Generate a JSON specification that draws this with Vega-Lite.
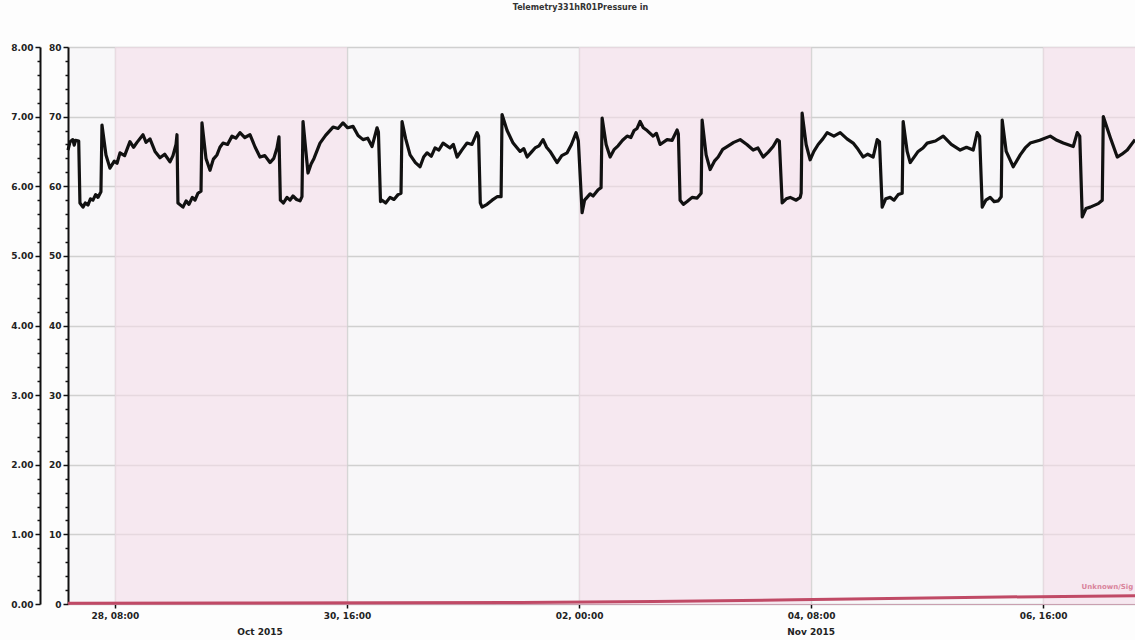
{
  "$schema": "https://vega.github.io/schema/vega-lite/v6.json",
  "autosize": "none",
  "width": 1067,
  "height": 557,
  "padding": {"left": 68, "top": 47, "right": 0, "bottom": 36},
  "background": "#fdfdfd",
  "title": {"text": "Telemetry331hR01Pressure in", "fontSize": 8, "font": "DejaVu Sans", "fontWeight": "bold", "color": "#333", "anchor": "middle", "frame": "group", "offset": 31, "dx": -21},
  "config": {"view": {"fill": "#f8f7f9", "stroke": null}},
  "datasets": {
    "bands": [
      {"start": "2015-10-28T08:00Z", "end": "2015-10-30T16:00Z"},
      {"start": "2015-11-02T00:00Z", "end": "2015-11-04T08:00Z"},
      {"start": "2015-11-06T16:00Z", "end": "2015-11-07T14:10Z"}
    ],
    "signal": [
      {"t": "2015-10-27T20:40Z", "v": 0.01},
      {"t": "2015-10-29T12:00Z", "v": 0.015},
      {"t": "2015-11-01T10:00Z", "v": 0.02},
      {"t": "2015-11-02T18:00Z", "v": 0.035},
      {"t": "2015-11-04T04:00Z", "v": 0.06},
      {"t": "2015-11-06T06:00Z", "v": 0.1},
      {"t": "2015-11-07T14:10Z", "v": 0.12}
    ],
    "labels": [
      {"t": "2015-10-29T19:00Z", "v": -0.4, "text": "Oct 2015", "kind": "axis"},
      {"t": "2015-11-04T08:00Z", "v": -0.4, "text": "Nov 2015", "kind": "axis"},
      {"t": "2015-11-07T07:30Z", "v": 0.24, "text": "Unknown/Sig", "kind": "series"}
    ],
    "pressure": [
      {"t": "2015-10-27T20:40Z", "v": 65.2},
      {"t": "2015-10-27T21:10Z", "v": 66.4},
      {"t": "2015-10-27T21:50Z", "v": 66.7},
      {"t": "2015-10-27T22:10Z", "v": 65.9},
      {"t": "2015-10-27T22:30Z", "v": 66.6},
      {"t": "2015-10-27T23:15Z", "v": 66.5},
      {"t": "2015-10-27T23:33Z", "v": 57.6},
      {"t": "2015-10-28T00:17Z", "v": 57.0},
      {"t": "2015-10-28T00:50Z", "v": 57.6},
      {"t": "2015-10-28T01:29Z", "v": 57.3},
      {"t": "2015-10-28T02:05Z", "v": 58.2},
      {"t": "2015-10-28T02:41Z", "v": 58.0},
      {"t": "2015-10-28T03:20Z", "v": 58.8},
      {"t": "2015-10-28T03:54Z", "v": 58.4},
      {"t": "2015-10-28T04:37Z", "v": 59.2},
      {"t": "2015-10-28T04:52Z", "v": 68.8},
      {"t": "2015-10-28T05:50Z", "v": 64.5},
      {"t": "2015-10-28T06:47Z", "v": 62.6},
      {"t": "2015-10-28T07:50Z", "v": 63.6},
      {"t": "2015-10-28T08:30Z", "v": 63.3},
      {"t": "2015-10-28T09:13Z", "v": 64.8},
      {"t": "2015-10-28T10:20Z", "v": 64.4},
      {"t": "2015-10-28T11:37Z", "v": 66.4},
      {"t": "2015-10-28T12:30Z", "v": 65.6},
      {"t": "2015-10-28T13:19Z", "v": 66.3},
      {"t": "2015-10-28T14:46Z", "v": 67.4},
      {"t": "2015-10-28T15:30Z", "v": 66.3},
      {"t": "2015-10-28T16:27Z", "v": 66.8},
      {"t": "2015-10-28T17:40Z", "v": 65.0},
      {"t": "2015-10-28T18:52Z", "v": 64.1},
      {"t": "2015-10-28T20:00Z", "v": 64.6},
      {"t": "2015-10-28T21:17Z", "v": 63.5},
      {"t": "2015-10-28T22:00Z", "v": 64.4},
      {"t": "2015-10-28T22:44Z", "v": 66.0},
      {"t": "2015-10-28T22:58Z", "v": 67.4},
      {"t": "2015-10-28T23:12Z", "v": 57.6},
      {"t": "2015-10-29T00:25Z", "v": 57.0},
      {"t": "2015-10-29T01:10Z", "v": 57.9},
      {"t": "2015-10-29T01:52Z", "v": 57.4},
      {"t": "2015-10-29T02:40Z", "v": 58.4},
      {"t": "2015-10-29T03:19Z", "v": 58.0},
      {"t": "2015-10-29T04:02Z", "v": 59.0},
      {"t": "2015-10-29T04:46Z", "v": 59.3},
      {"t": "2015-10-29T05:00Z", "v": 69.1},
      {"t": "2015-10-29T05:58Z", "v": 64.0},
      {"t": "2015-10-29T06:56Z", "v": 62.3},
      {"t": "2015-10-29T07:45Z", "v": 63.9},
      {"t": "2015-10-29T08:37Z", "v": 64.5},
      {"t": "2015-10-29T09:20Z", "v": 65.6},
      {"t": "2015-10-29T10:04Z", "v": 66.2},
      {"t": "2015-10-29T11:10Z", "v": 66.0},
      {"t": "2015-10-29T12:15Z", "v": 67.2},
      {"t": "2015-10-29T13:10Z", "v": 66.9},
      {"t": "2015-10-29T14:10Z", "v": 67.7},
      {"t": "2015-10-29T15:20Z", "v": 67.0},
      {"t": "2015-10-29T16:35Z", "v": 67.4},
      {"t": "2015-10-29T17:50Z", "v": 65.6},
      {"t": "2015-10-29T19:00Z", "v": 64.2},
      {"t": "2015-10-29T20:10Z", "v": 64.4},
      {"t": "2015-10-29T21:25Z", "v": 63.4},
      {"t": "2015-10-29T22:20Z", "v": 64.0},
      {"t": "2015-10-29T23:06Z", "v": 65.5},
      {"t": "2015-10-29T23:35Z", "v": 67.1},
      {"t": "2015-10-29T23:55Z", "v": 58.0},
      {"t": "2015-10-30T00:40Z", "v": 57.6},
      {"t": "2015-10-30T01:31Z", "v": 58.4},
      {"t": "2015-10-30T02:15Z", "v": 58.0},
      {"t": "2015-10-30T02:58Z", "v": 58.6},
      {"t": "2015-10-30T03:50Z", "v": 58.1},
      {"t": "2015-10-30T04:40Z", "v": 57.9},
      {"t": "2015-10-30T05:08Z", "v": 58.5},
      {"t": "2015-10-30T05:23Z", "v": 69.3},
      {"t": "2015-10-30T06:35Z", "v": 61.9},
      {"t": "2015-10-30T07:20Z", "v": 63.2},
      {"t": "2015-10-30T08:02Z", "v": 64.0},
      {"t": "2015-10-30T09:29Z", "v": 66.2},
      {"t": "2015-10-30T10:50Z", "v": 67.3},
      {"t": "2015-10-30T12:38Z", "v": 68.5},
      {"t": "2015-10-30T13:50Z", "v": 68.3},
      {"t": "2015-10-30T15:02Z", "v": 69.1},
      {"t": "2015-10-30T16:10Z", "v": 68.4},
      {"t": "2015-10-30T17:27Z", "v": 68.6},
      {"t": "2015-10-30T18:40Z", "v": 67.3},
      {"t": "2015-10-30T19:52Z", "v": 66.7},
      {"t": "2015-10-30T21:00Z", "v": 66.9},
      {"t": "2015-10-30T22:02Z", "v": 65.7},
      {"t": "2015-10-30T23:15Z", "v": 68.4},
      {"t": "2015-10-30T23:35Z", "v": 67.8},
      {"t": "2015-10-31T00:05Z", "v": 57.8},
      {"t": "2015-10-31T00:27Z", "v": 58.0},
      {"t": "2015-10-31T01:20Z", "v": 57.6},
      {"t": "2015-10-31T02:23Z", "v": 58.4},
      {"t": "2015-10-31T03:20Z", "v": 58.1},
      {"t": "2015-10-31T04:19Z", "v": 58.8},
      {"t": "2015-10-31T05:02Z", "v": 59.0},
      {"t": "2015-10-31T05:17Z", "v": 69.3},
      {"t": "2015-10-31T06:10Z", "v": 66.8},
      {"t": "2015-10-31T07:13Z", "v": 64.5},
      {"t": "2015-10-31T08:30Z", "v": 63.4},
      {"t": "2015-10-31T09:38Z", "v": 62.8},
      {"t": "2015-10-31T10:30Z", "v": 64.2},
      {"t": "2015-10-31T11:19Z", "v": 64.8},
      {"t": "2015-10-31T12:20Z", "v": 64.3},
      {"t": "2015-10-31T13:15Z", "v": 65.5},
      {"t": "2015-10-31T14:10Z", "v": 65.2},
      {"t": "2015-10-31T15:11Z", "v": 66.2},
      {"t": "2015-10-31T16:52Z", "v": 65.5},
      {"t": "2015-10-31T17:40Z", "v": 66.0},
      {"t": "2015-10-31T18:34Z", "v": 64.2},
      {"t": "2015-10-31T19:50Z", "v": 65.3},
      {"t": "2015-10-31T20:58Z", "v": 66.2},
      {"t": "2015-10-31T22:10Z", "v": 66.0},
      {"t": "2015-10-31T23:23Z", "v": 67.7},
      {"t": "2015-10-31T23:45Z", "v": 67.2},
      {"t": "2015-11-01T00:10Z", "v": 57.6},
      {"t": "2015-11-01T00:35Z", "v": 57.0},
      {"t": "2015-11-01T01:48Z", "v": 57.4},
      {"t": "2015-11-01T03:01Z", "v": 58.0},
      {"t": "2015-11-01T04:13Z", "v": 58.5},
      {"t": "2015-11-01T05:11Z", "v": 58.5},
      {"t": "2015-11-01T05:25Z", "v": 70.3},
      {"t": "2015-11-01T06:38Z", "v": 68.0},
      {"t": "2015-11-01T08:05Z", "v": 66.2},
      {"t": "2015-11-01T09:46Z", "v": 65.0},
      {"t": "2015-11-01T10:40Z", "v": 65.4},
      {"t": "2015-11-01T11:28Z", "v": 64.2},
      {"t": "2015-11-01T12:30Z", "v": 64.9},
      {"t": "2015-11-01T13:23Z", "v": 65.5},
      {"t": "2015-11-01T14:20Z", "v": 65.8},
      {"t": "2015-11-01T15:19Z", "v": 66.7},
      {"t": "2015-11-01T16:10Z", "v": 65.6},
      {"t": "2015-11-01T17:01Z", "v": 65.0},
      {"t": "2015-11-01T18:42Z", "v": 63.4},
      {"t": "2015-11-01T19:50Z", "v": 64.4},
      {"t": "2015-11-01T21:07Z", "v": 64.8},
      {"t": "2015-11-01T22:10Z", "v": 66.0},
      {"t": "2015-11-01T23:17Z", "v": 67.7},
      {"t": "2015-11-01T23:50Z", "v": 66.5},
      {"t": "2015-11-02T00:44Z", "v": 56.2},
      {"t": "2015-11-02T01:20Z", "v": 58.0},
      {"t": "2015-11-02T01:56Z", "v": 58.4},
      {"t": "2015-11-02T02:40Z", "v": 58.9},
      {"t": "2015-11-02T03:23Z", "v": 58.6},
      {"t": "2015-11-02T04:36Z", "v": 59.5},
      {"t": "2015-11-02T05:19Z", "v": 59.8},
      {"t": "2015-11-02T05:34Z", "v": 69.8},
      {"t": "2015-11-02T06:32Z", "v": 66.0},
      {"t": "2015-11-02T07:30Z", "v": 64.2},
      {"t": "2015-11-02T08:30Z", "v": 65.3},
      {"t": "2015-11-02T09:25Z", "v": 65.8},
      {"t": "2015-11-02T10:30Z", "v": 66.6},
      {"t": "2015-11-02T11:36Z", "v": 67.2},
      {"t": "2015-11-02T12:30Z", "v": 67.0},
      {"t": "2015-11-02T13:17Z", "v": 68.0},
      {"t": "2015-11-02T14:00Z", "v": 68.3},
      {"t": "2015-11-02T14:44Z", "v": 69.3},
      {"t": "2015-11-02T15:30Z", "v": 68.4},
      {"t": "2015-11-02T16:26Z", "v": 68.0},
      {"t": "2015-11-02T17:52Z", "v": 67.2},
      {"t": "2015-11-02T18:40Z", "v": 67.6},
      {"t": "2015-11-02T19:34Z", "v": 66.0},
      {"t": "2015-11-02T21:15Z", "v": 66.7},
      {"t": "2015-11-02T22:28Z", "v": 66.6},
      {"t": "2015-11-02T23:40Z", "v": 68.1},
      {"t": "2015-11-02T23:58Z", "v": 67.5},
      {"t": "2015-11-03T00:23Z", "v": 58.0},
      {"t": "2015-11-03T01:10Z", "v": 57.4},
      {"t": "2015-11-03T02:05Z", "v": 57.8},
      {"t": "2015-11-03T03:17Z", "v": 58.4},
      {"t": "2015-11-03T04:30Z", "v": 58.3},
      {"t": "2015-11-03T05:28Z", "v": 59.0},
      {"t": "2015-11-03T05:42Z", "v": 69.5},
      {"t": "2015-11-03T06:40Z", "v": 64.5},
      {"t": "2015-11-03T07:38Z", "v": 62.4},
      {"t": "2015-11-03T08:40Z", "v": 63.6},
      {"t": "2015-11-03T09:34Z", "v": 64.2},
      {"t": "2015-11-03T10:40Z", "v": 65.3},
      {"t": "2015-11-03T11:44Z", "v": 65.7},
      {"t": "2015-11-03T13:20Z", "v": 66.3},
      {"t": "2015-11-03T14:53Z", "v": 66.7},
      {"t": "2015-11-03T16:30Z", "v": 66.0},
      {"t": "2015-11-03T18:01Z", "v": 65.2},
      {"t": "2015-11-03T19:10Z", "v": 65.5},
      {"t": "2015-11-03T20:26Z", "v": 64.2},
      {"t": "2015-11-03T21:40Z", "v": 64.9},
      {"t": "2015-11-03T22:50Z", "v": 65.7},
      {"t": "2015-11-03T23:49Z", "v": 66.7},
      {"t": "2015-11-04T00:20Z", "v": 66.5},
      {"t": "2015-11-04T01:01Z", "v": 57.6},
      {"t": "2015-11-04T02:00Z", "v": 58.2},
      {"t": "2015-11-04T02:57Z", "v": 58.4},
      {"t": "2015-11-04T04:24Z", "v": 58.0},
      {"t": "2015-11-04T05:22Z", "v": 58.4},
      {"t": "2015-11-04T05:36Z", "v": 59.0},
      {"t": "2015-11-04T05:50Z", "v": 70.5},
      {"t": "2015-11-04T06:48Z", "v": 66.0},
      {"t": "2015-11-04T07:46Z", "v": 63.8},
      {"t": "2015-11-04T08:40Z", "v": 65.0},
      {"t": "2015-11-04T09:42Z", "v": 66.0},
      {"t": "2015-11-04T10:50Z", "v": 66.8},
      {"t": "2015-11-04T11:53Z", "v": 67.7},
      {"t": "2015-11-04T13:30Z", "v": 67.2},
      {"t": "2015-11-04T15:01Z", "v": 67.7},
      {"t": "2015-11-04T16:40Z", "v": 66.8},
      {"t": "2015-11-04T18:09Z", "v": 66.2},
      {"t": "2015-11-04T19:20Z", "v": 65.3},
      {"t": "2015-11-04T20:34Z", "v": 64.2},
      {"t": "2015-11-04T21:40Z", "v": 64.6},
      {"t": "2015-11-04T22:59Z", "v": 64.2},
      {"t": "2015-11-04T23:57Z", "v": 66.7},
      {"t": "2015-11-05T00:30Z", "v": 66.4},
      {"t": "2015-11-05T01:09Z", "v": 57.0},
      {"t": "2015-11-05T02:00Z", "v": 58.2},
      {"t": "2015-11-05T03:05Z", "v": 58.4},
      {"t": "2015-11-05T04:00Z", "v": 58.0},
      {"t": "2015-11-05T05:01Z", "v": 58.8},
      {"t": "2015-11-05T05:59Z", "v": 59.0},
      {"t": "2015-11-05T06:13Z", "v": 69.3},
      {"t": "2015-11-05T07:11Z", "v": 65.0},
      {"t": "2015-11-05T07:55Z", "v": 63.4},
      {"t": "2015-11-05T09:50Z", "v": 65.0},
      {"t": "2015-11-05T11:00Z", "v": 65.5},
      {"t": "2015-11-05T12:01Z", "v": 66.2},
      {"t": "2015-11-05T14:00Z", "v": 66.5},
      {"t": "2015-11-05T15:53Z", "v": 67.2},
      {"t": "2015-11-05T17:50Z", "v": 66.0},
      {"t": "2015-11-05T19:59Z", "v": 65.2},
      {"t": "2015-11-05T21:30Z", "v": 65.6},
      {"t": "2015-11-05T23:07Z", "v": 65.2},
      {"t": "2015-11-06T00:05Z", "v": 67.7},
      {"t": "2015-11-06T00:40Z", "v": 67.2},
      {"t": "2015-11-06T01:18Z", "v": 57.0},
      {"t": "2015-11-06T02:10Z", "v": 58.0},
      {"t": "2015-11-06T03:13Z", "v": 58.4},
      {"t": "2015-11-06T04:10Z", "v": 57.8},
      {"t": "2015-11-06T05:09Z", "v": 57.9},
      {"t": "2015-11-06T05:53Z", "v": 58.5},
      {"t": "2015-11-06T06:07Z", "v": 69.5},
      {"t": "2015-11-06T07:05Z", "v": 65.0},
      {"t": "2015-11-06T08:47Z", "v": 62.8},
      {"t": "2015-11-06T10:28Z", "v": 64.5},
      {"t": "2015-11-06T11:40Z", "v": 65.5},
      {"t": "2015-11-06T12:53Z", "v": 66.2},
      {"t": "2015-11-06T15:10Z", "v": 66.6},
      {"t": "2015-11-06T17:43Z", "v": 67.2},
      {"t": "2015-11-06T19:20Z", "v": 66.6},
      {"t": "2015-11-06T20:51Z", "v": 66.2},
      {"t": "2015-11-06T23:16Z", "v": 65.7},
      {"t": "2015-11-07T00:14Z", "v": 67.7},
      {"t": "2015-11-07T00:50Z", "v": 67.2},
      {"t": "2015-11-07T01:26Z", "v": 55.6},
      {"t": "2015-11-07T02:20Z", "v": 56.8},
      {"t": "2015-11-07T03:22Z", "v": 57.0},
      {"t": "2015-11-07T05:18Z", "v": 57.5},
      {"t": "2015-11-07T06:16Z", "v": 58.0},
      {"t": "2015-11-07T06:31Z", "v": 70.0},
      {"t": "2015-11-07T08:12Z", "v": 67.0},
      {"t": "2015-11-07T09:53Z", "v": 64.2},
      {"t": "2015-11-07T11:00Z", "v": 64.6},
      {"t": "2015-11-07T12:18Z", "v": 65.2},
      {"t": "2015-11-07T14:10Z", "v": 66.7}
    ]
  },
  "layer": [
    {
      "data": {"name": "bands"},
      "mark": {"type": "rect", "fill": "#f5dee9", "opacity": 0.6},
      "encoding": {
        "x": {
          "field": "start", "type": "temporal",
          "scale": {"type": "utc", "domain": [
            {"year": 2015, "month": "oct", "date": 27, "hours": 20, "minutes": 40, "utc": true},
            {"year": 2015, "month": "nov", "date": 7, "hours": 14, "minutes": 10, "utc": true}
          ]},
          "axis": {
            "title": null,
            "values": [
              {"year": 2015, "month": "oct", "date": 28, "hours": 8, "utc": true},
              {"year": 2015, "month": "oct", "date": 30, "hours": 16, "utc": true},
              {"year": 2015, "month": "nov", "date": 2, "hours": 0, "utc": true},
              {"year": 2015, "month": "nov", "date": 4, "hours": 8, "utc": true},
              {"year": 2015, "month": "nov", "date": 6, "hours": 16, "utc": true}
            ],
            "labelExpr": "utcFormat(datum.value, '%d, %H:%M')",
            "labelOverlap": false,
            "grid": true, "gridColor": "#d6d6d6", "gridWidth": 1.5,
            "domainColor": "#c9a0b0", "domainWidth": 1,
            "tickColor": "#111", "tickSize": 4, "tickWidth": 1.5,
            "labelFont": "DejaVu Sans", "labelFontSize": 9, "labelFontWeight": "bold", "labelColor": "#222", "labelPadding": 3
          }
        },
        "x2": {"field": "end"}
      }
    },
    {
      "data": {"name": "pressure"},
      "mark": {"type": "point", "opacity": 0, "size": 1},
      "encoding": {
        "x": {"field": "t", "type": "temporal", "scale": {"type": "utc"}, "axis": null},
        "y": {
          "field": "v", "type": "quantitative",
          "scale": {"domain": [0, 80], "nice": false, "zero": true},
          "axis": {"orient": "left", "offset": 0, "title": null, "labels": false, "domain": false, "grid": false,
            "values": [2,4,6,8,12,14,16,18,22,24,26,28,32,34,36,38,42,44,46,48,52,54,56,58,62,64,66,68,72,74,76,78],
            "tickColor": "#111", "tickSize": 3, "tickWidth": 1.5}
        }
      }
    },
    {
      "data": {"name": "pressure"},
      "mark": {"type": "line", "color": "#111111", "strokeWidth": 3.2, "strokeJoin": "round"},
      "encoding": {
        "x": {"field": "t", "type": "temporal", "scale": {"type": "utc"}, "axis": null},
        "y": {
          "field": "v", "type": "quantitative",
          "scale": {"domain": [0, 80], "nice": false, "zero": true},
          "axis": {"orient": "left", "offset": 0, "title": null,
            "values": [0,10,20,30,40,50,60,70,80], "format": "d",
            "grid": true, "gridColor": "#d0d0d0", "gridWidth": 1.5,
            "domainColor": "#111", "domainWidth": 2,
            "tickColor": "#111", "tickSize": 5, "tickWidth": 1.5,
            "labelFont": "DejaVu Sans", "labelFontSize": 9, "labelFontWeight": "bold", "labelColor": "#222", "labelPadding": 2}
        }
      }
    },
    {
      "data": {"name": "signal"},
      "mark": {"type": "line", "color": "#c04a66", "strokeWidth": 3},
      "encoding": {
        "x": {"field": "t", "type": "temporal", "scale": {"type": "utc"}, "axis": null},
        "y": {
          "field": "v", "type": "quantitative",
          "scale": {"domain": [0, 8], "nice": false, "zero": true},
          "axis": {"orient": "left", "offset": 28, "title": null,
            "values": [0,1,2,3,4,5,6,7,8], "format": ".2f",
            "grid": false,
            "domainColor": "#111", "domainWidth": 2,
            "tickColor": "#111", "tickSize": 5, "tickWidth": 1.5,
            "labelFont": "DejaVu Sans", "labelFontSize": 9, "labelFontWeight": "bold", "labelColor": "#222", "labelPadding": 2}
        }
      }
    },
    {
      "data": {"name": "signal"},
      "mark": {"type": "point", "opacity": 0, "size": 1},
      "encoding": {
        "x": {"field": "t", "type": "temporal", "scale": {"type": "utc"}, "axis": null},
        "y": {
          "field": "v", "type": "quantitative",
          "scale": {"domain": [0, 8], "nice": false, "zero": true},
          "axis": {"orient": "left", "offset": 28, "title": null, "labels": false, "domain": false, "grid": false,
            "values": [0.2,0.4,0.6,0.8,1.2,1.4,1.6,1.8,2.2,2.4,2.6,2.8,3.2,3.4,3.6,3.8,4.2,4.4,4.6,4.8,5.2,5.4,5.6,5.8,6.2,6.4,6.6,6.8,7.2,7.4,7.6,7.8],
            "tickColor": "#111", "tickSize": 3, "tickWidth": 1.5}
        }
      }
    },
    {
      "data": {"name": "labels"},
      "mark": {"type": "text", "font": "DejaVu Sans", "fontWeight": "bold", "baseline": "middle", "align": "center"},
      "encoding": {
        "x": {"field": "t", "type": "temporal", "scale": {"type": "utc"}, "axis": null},
        "y": {"field": "v", "type": "quantitative", "scale": {"domain": [0, 8], "nice": false, "zero": true}, "axis": null},
        "text": {"field": "text"},
        "color": {"field": "kind", "type": "nominal", "scale": {"domain": ["axis", "series"], "range": ["#222222", "#d9849c"]}, "legend": null},
        "size": {"field": "kind", "type": "nominal", "scale": {"domain": ["axis", "series"], "range": [9, 7]}, "legend": null}
      }
    }
  ],
  "resolve": {"scale": {"y": "independent"}, "axis": {"y": "independent", "x": "independent"}}
}
